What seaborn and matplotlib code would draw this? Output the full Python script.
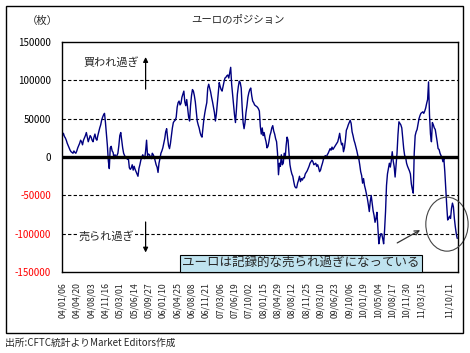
import pandas as pd
import seaborn as sns
import matplotlib.pyplot as plt
from matplotlib.patches import Ellipse, Rectangle

# weekly net position (thousand contracts), from 2004-01-06
position_k = [
    28, 31, 27, 25, 22, 18, 15, 12, 9, 7, 6, 5, 8, 6, 5,
    8, 12, 15, 18, 22, 20, 16, 22, 25, 28, 32, 26, 20, 24, 28,
    26, 22, 20, 26, 30, 24, 22, 28, 33, 38, 42, 48, 52, 55, 57,
    45, 30, 15, -5, -15, 12, 14, 8, 6, -2, 3, -1, 2, 5, 15,
    28, 32, 22, 12, 5, 2, 0, -1, -3, -2, -14, -16, -14, -10, -17,
    -12, -16, -19, -22, -25, -15, -10, -4, 0, 3, 0, -2, 8, 22, 2,
    4, 3, 0, -2, 5, 3, 0, -5, -10, -13, -20, -8, -2, 5, 8,
    12, 18, 24, 33, 37, 25, 15, 11, 18, 28, 38, 45, 47, 48, 52,
    65, 71, 73, 68, 70, 78, 82, 86, 72, 67, 75, 63, 52, 47, 67,
    80, 88, 86, 80, 72, 60, 47, 42, 38, 32, 28, 26, 38, 50, 58,
    65, 71, 90, 95, 90, 85, 78, 72, 65, 58, 47, 56, 70, 85, 97,
    92, 88, 86, 92, 98, 103, 104, 106, 107, 103, 110, 117, 95, 82, 70,
    55, 45, 62, 82, 92, 99, 97, 90, 65, 45, 37, 45, 58, 67, 78,
    84, 88, 90, 80, 73, 71, 68, 67, 66, 65, 63, 60, 40, 30, 38,
    28, 32, 25, 20, 12, 14, 20, 28, 32, 38, 41, 34, 30, 24, 20,
    5, -23, -8, -12, 3, -10, -8, 5, -2, 15, 26, 22, 5, -10, -17,
    -22, -25, -32, -38, -40, -40, -34, -30, -25, -32, -28, -30, -27, -27, -22,
    -20, -18, -15, -12, -8, -6, -4, -6, -10, -9, -8, -12, -10, -14, -19,
    -17, -12, -8, -3, 0, 2, -1, 3, 5, 8, 11, 9, 13, 10, 12,
    14, 16, 18, 20, 25, 31, 22, 16, 18, 7, 12, 22, 35, 38, 42,
    45, 48, 44, 33, 28, 22, 18, 13, 8, 2, -2, -10, -19, -24, -34,
    -28, -37, -42, -48, -54, -62, -71, -58, -50, -60, -70, -76, -85, -80, -72,
    -93, -113, -105, -100, -100, -106, -113, -95, -71, -37, -22, -15, -8, -13, -5,
    7, -5, -12, -26, -10, 5, 29, 46, 44, 42, 38, 25, 11, 2, 0,
    -8, -12, -15, -18, -22, -35, -42, -47, 5, 28, 33, 36, 43, 50, 54,
    57, 58, 59, 57, 60, 64, 70, 75, 98, 55, 30, 20, 45, 42, 38,
    36, 28, 20, 11, 10, 5, 2, 0, -6, -2, -19, -41, -63, -82, -80,
    -77, -80, -67, -60, -65, -80, -91, -100, -106,
]
dates = pd.date_range('2004-01-06', periods=len(position_k), freq='7D')
tick_idx = list(range(0, 376, 15)) + [405]
yticks = [150000, 100000, 50000, 0, -50000, -100000, -150000]

df = pd.DataFrame({'date': dates, 'position': [v * 1000 for v in position_k]})

sns.set_style('white')
plt.rcParams['font.family'] = ['Noto Sans CJK JP', 'DejaVu Sans']

fig = plt.figure(figsize=(4.7, 3.53), dpi=100)
ax = fig.add_axes([0.132, 0.229, 0.842, 0.652])

# grid lines
for g in [100000, 50000, -50000, -100000]:
    ax.axhline(g, color='black', linestyle=(0, (3, 2)), lw=0.8, zorder=1)
ax.axhline(0, color='black', lw=2.4, zorder=3)

sns.lineplot(data=df, x='date', y='position', color='#000080', lw=1.0, ax=ax, zorder=2)

ax.set_xlim(dates[0] - pd.Timedelta(days=3), dates[-1] + pd.Timedelta(days=4))
ax.set_ylim(-150000, 150000)
ax.set_yticks(yticks)
ax.set_yticklabels([str(v) for v in yticks], fontsize=7)
for lab, v in zip(ax.get_yticklabels(), yticks):
    lab.set_color('red' if v < 0 else 'black')
ax.set_xticks([dates[i] for i in tick_idx])
ax.set_xticklabels([dates[i].strftime('%y/%m/%d') for i in tick_idx], rotation=90, fontsize=6.3)
ax.tick_params(axis='both', length=0)
ax.tick_params(axis='y', pad=8)
ax.tick_params(axis='x', pad=7)
ax.set_xlabel('')
ax.set_ylabel('')
for s in ax.spines.values():
    s.set_color('black')
    s.set_linewidth(1.0)

# titles
fig.text(0.506, 0.943, 'ユーロのポジション', ha='center', va='center', fontsize=7.5)
fig.text(0.09, 0.941, '（枚）', ha='center', va='center', fontsize=7.5)

# annotations
wk = pd.Timedelta(days=7)
ax.text(dates[0] + 22 * wk, 124000, '買われ過ぎ', fontsize=8, va='center')
ax.annotate('', xy=(dates[0] + 87 * wk, 134000), xytext=(dates[0] + 87 * wk, 85000),
            arrowprops=dict(arrowstyle='-|>', color='black', lw=0.9, mutation_scale=7))
ax.text(dates[0] + 17 * wk, -103000, '売られ過ぎ', fontsize=8, va='center', zorder=4,
        bbox=dict(boxstyle='square,pad=0.1', fc='white', ec='none'))
ax.annotate('', xy=(dates[0] + 87 * wk, -128000), xytext=(dates[0] + 87 * wk, -81000),
            arrowprops=dict(arrowstyle='-|>', color='black', lw=0.9, mutation_scale=7))

fig.text(0.388, 0.254, 'ユーロは記録的な売られ過ぎになっている', ha='left', va='center',
         fontsize=9, bbox=dict(boxstyle='square,pad=0.15', fc='#bfe3ef', ec='black', lw=0.8))
ax.annotate('', xy=(0.899, 0.352), xytext=(0.84, 0.308), xycoords='figure fraction',
            textcoords='figure fraction',
            arrowprops=dict(arrowstyle='->', color='#333333', lw=0.9, mutation_scale=8))
fig.add_artist(Ellipse((0.951, 0.365), 0.09, 0.153, transform=fig.transFigure,
                       fill=False, ec='#444444', lw=0.8))

# outer frame and source note
fig.add_artist(Rectangle((0.013, 0.057), 0.972, 0.926, transform=fig.transFigure,
                         fill=False, ec='black', lw=1.0))
fig.text(0.01, 0.028, '出所:CFTC統計よりMarket Editors作成', ha='left', va='center', fontsize=7)

fig.savefig('out.png', dpi=100)
